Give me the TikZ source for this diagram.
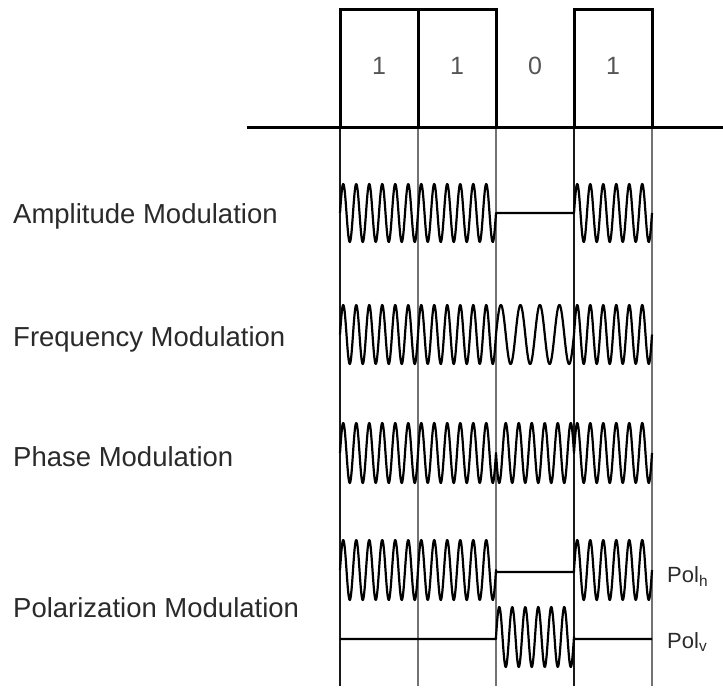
\documentclass[tikz,border=0pt]{standalone}
\usepackage{fontspec}
\setmainfont{Liberation Sans}
\definecolor{txt}{HTML}{2A2A2A}
\definecolor{bitc}{HTML}{555555}
\tikzset{
  lbl/.style={anchor=base west, inner sep=0pt, text=txt, font=\fontsize{27.5}{33}\selectfont},
  bitlbl/.style={anchor=base, inner sep=0pt, text=bitc, font=\fontsize{25}{30}\selectfont},
  pollbl/.style={anchor=base west, inner sep=0pt, text=txt, font=\fontsize{22}{26}\selectfont},
  boxline/.style={line width=3pt, line join=miter},
  gridline/.style={line width=1.5pt, draw=black!55},
  gridlinedark/.style={line width=1.5pt, draw=black!90},
  wave/.style={line width=2.2pt, line join=round},
}
\begin{document}
\begin{tikzpicture}[x=1pt,y=-1pt]
\useasboundingbox (0,0) rectangle (723,691);
% bit boundary coordinates
\coordinate (c0) at (340,127);
\coordinate (c1) at (418,127);
\coordinate (c2) at (496,127);
\coordinate (c3) at (574,127);
\coordinate (c4) at (652,127);
% vertical grid lines
\draw[gridlinedark] (340,127) -- (340,686);
\draw[gridline] (418,127) -- (418,686);
\draw[gridline] (496,127) -- (496,686);
\draw[gridlinedark] (574,127) -- (574,686);
\draw[gridline] (652,127) -- (652,686);
% baseline and bit boxes
\draw[boxline] (247,127) -- (723,127);
\draw[boxline] (c0) -- (340,9) -- (496,9) -- (c2);
\draw[boxline] (418,9) -- (c1);
\draw[boxline] (c3) -- (574,9) -- (652,9) -- (c4);
% bit values
\node[bitlbl] (b1) at (379,74) {1};
\node[bitlbl] (b2) at (457,74) {1};
\node[bitlbl] (b3) at (535,74) {0};
\node[bitlbl] (b4) at (613,74) {1};
% labels
\node[lbl] (am) at (13,223) {Amplitude Modulation};
\node[lbl] (fm) at (13,346) {Frequency Modulation};
\node[lbl] (pm) at (13,466) {Phase Modulation};
\node[lbl] (polm) at (13,617) {Polarization Modulation};
\node[pollbl] (polh) at (667,582) {Pol\textsubscript{h}};
\node[pollbl] (polv) at (667,648) {Pol\textsubscript{v}};
% Amplitude modulation
\draw[wave] plot[domain=340:496,samples=400] (\x,{213-29*sin(27.6923*(\x-340))})
  -- (574,213) -- plot[domain=574:652,samples=200] (\x,{213-29*sin(27.6923*(\x-574))});
% Frequency modulation
\draw[wave] plot[domain=340:496,samples=400] (\x,{334.5-29.5*sin(27.6923*(\x-340))})
  -- plot[domain=496:574,samples=200] (\x,{334.5-29.5*sin(18.4615*(\x-496))})
  -- plot[domain=574:652,samples=200] (\x,{334.5-29.5*sin(27.6923*(\x-574))});
% Phase modulation
\draw[wave] plot[domain=340:496,samples=400] (\x,{453-30*sin(27.6923*(\x-340))})
  -- plot[domain=496:574,samples=200] (\x,{453+30*sin(27.6923*(\x-496))})
  -- plot[domain=574:652,samples=200] (\x,{453-30*sin(27.6923*(\x-574))});
% Polarization modulation, horizontal
\draw[wave] plot[domain=340:496,samples=400] (\x,{570-30*sin(27.6923*(\x-340))})
  -- (496,572) -- (574,572) -- (574,570)
  -- plot[domain=574:652,samples=200] (\x,{570-30*sin(27.6923*(\x-574))});
% Polarization modulation, vertical
\draw[wave] (340,639) -- (496,639)
  -- plot[domain=496:574,samples=200] (\x,{637-30*sin(27.6923*(\x-496))})
  -- (574,639) -- (652,639);
\end{tikzpicture}
\end{document}
